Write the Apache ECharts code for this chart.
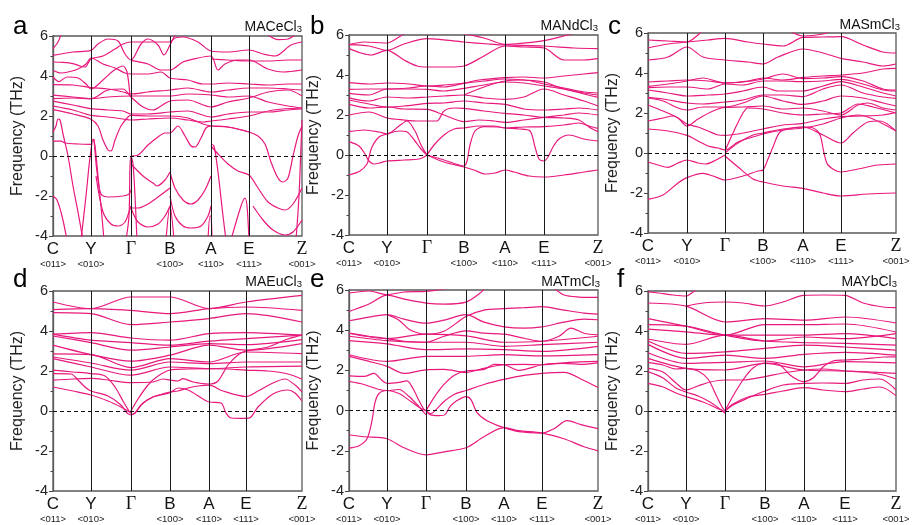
<!DOCTYPE html>
<html>
<head>
<meta charset="utf-8">
<script src="https://cdn.jsdelivr.net/npm/echarts@6/dist/echarts.min.js"></script>
<style>
html, body { margin: 0; padding: 0; background: #fff; }
#chart { width: 912px; height: 525px; }
</style>
</head>
<body>
<div id="chart"></div>
<script>
// High-symmetry points along the Brillouin-zone path and their directions
const pointLabels = ['C', 'Y', 'Γ', 'B', 'A', 'E', 'Z'];
const directionLabels = ['<011>', '<010>', '', '<100>', '<110>', '<111>', '<001>'];
const compounds = ['MACeCl', 'MANdCl', 'MASmCl', 'MAEuCl', 'MATmCl', 'MAYbCl'];
const panelLetters = ['a', 'b', 'c', 'd', 'e', 'f'];
const freqTicks = [-4, -2, 0, 2, 4, 6];

// Path distance of each high-symmetry point, per compound
const kpathA = [0, 38, 78, 117, 158, 196, 249];
const kpathB = [0, 38, 78, 115, 156, 195, 249];
const kpathC = [0, 39, 77, 115, 155, 193, 248];
const kpathD = [0, 38, 78, 117, 156, 193, 249];
const kpathE = [0, 38, 77, 117, 155, 193, 249];
const kpathF = [0, 38, 77, 117, 156, 197, 248];

// Phonon branches: [path distance, frequency in THz]
const bandsA = [
  [[0,5.37],[5,5.7],[9,6.2]],
  [[0,5.03],[20,5.2],[38,5.28],[45,5.6],[55,5.85],[65,5.75],[72,5.1],[78,4.8],[88,5.6],[95,5.85],[105,5.55],[111,5.05],[117,5.55],[121,5.95],[124,6.2]],
  [[0,4.7],[10,4.68],[20,4.62],[27,4.5],[32,4.45],[38,4.85],[50,5.0],[62,5.35],[70,5.6],[78,5.7],[100,5.7],[117,5.7],[122,5.9],[130,5.95],[145,5.7],[158,5.25],[175,5.2],[196,5.3],[210,5.1],[222,5.0],[238,5.55],[249,5.7]],
  [[0,4.29],[8,4.15],[15,4.2],[25,4.35],[33,4.6],[38,4.9],[50,4.6],[62,4.4],[72,4.15],[78,4.1],[95,4.1],[108,4.2],[117,3.9],[135,3.8],[150,3.6],[158,3.6],[175,3.65],[196,3.6],[215,3.55],[235,3.6],[249,3.6]],
  [[0,3.95],[6,3.72],[14,3.95],[25,3.9],[33,3.6],[38,3.35],[50,3.8],[60,4.25],[70,4.5],[74,4.2],[77,3.0]],
  [[78,4.78],[95,4.6],[108,4.3],[117,4.3],[130,4.7],[145,4.9],[158,5.0],[165,4.3],[172,4.6],[185,4.8],[196,4.8],[215,4.35],[230,4.2],[249,4.3]],
  [[158,4.85],[175,4.8],[196,4.75],[215,4.75],[235,4.8],[249,4.8]],
  [[215,6.05],[225,5.82],[235,5.85],[242,6.05]],
  [[0,3.57],[20,3.55],[38,3.42],[55,3.35],[70,3.2],[78,3.1],[95,3.2],[117,3.3],[135,3.4],[158,3.2],[175,3.3],[196,3.4],[215,3.4],[235,3.35],[249,3.3]],
  [[0,3.04],[20,2.95],[38,2.87],[55,3.3],[70,3.35],[78,2.95],[90,2.45],[100,2.3],[108,2.5],[117,2.75],[135,2.8],[158,2.45],[175,2.7],[196,2.9],[215,3.2],[235,3.3],[249,3.0]],
  [[0,2.87],[20,2.9],[38,2.87],[55,2.95],[78,3.0],[95,3.0],[117,3.0],[135,3.1],[158,3.05],[175,2.95],[196,3.0],[215,2.7],[235,2.5],[249,2.4]],
  [[0,2.74],[20,2.55],[38,2.37],[55,2.3],[70,2.25],[78,2.1],[95,2.1],[117,2.2],[135,2.25],[158,1.95],[175,2.1],[196,2.2],[215,2.2],[235,2.3],[249,2.35]],
  [[0,2.49],[20,2.3],[38,2.03],[55,1.95],[70,1.85],[78,1.8],[95,1.85],[117,1.9],[135,1.8],[150,1.7],[158,1.75],[175,1.85],[196,2.0],[220,2.3],[249,2.4]],
  [[0,2.32],[20,2.1],[38,1.84],[45,1.5],[50,0.8],[55,0.3],[58,0.25],[62,0.8],[68,1.5],[75,1.95],[78,2.03],[95,2.0],[117,2.0],[135,1.9],[150,1.6],[158,1.5],[175,1.45],[196,1.2],[205,1.0],[212,0.6],[218,-0.3],[225,-1.1],[230,-1.3],[235,-1.1],[240,0.0],[245,1.0],[249,1.5]],
  [[78,0],[85,0.05],[95,0.55],[105,0.95],[112,1.15],[117,1.15],[125,1.5],[132,1.0],[138,0.5],[142,0.45],[148,0.9],[153,1.4],[158,1.5],[175,1.45],[196,1.2]],
  [[0,0.74],[8,0.74],[12,0.65],[25,0.6],[38,0.58]],
  [[0,1.2],[3,1.5],[5,1.85],[7,1.8],[10,1.1],[15,0],[20,-1.5],[25,-2.8],[30,-4.2]],
  [[0,-2.0],[4,-2.2],[9,-3.0],[14,-4.2]],
  [[28,-4.2],[33,-2.0],[36,-0.5],[38,0.3],[40,0.85],[42,0.5],[45,-1.0],[48,-2.5],[51,-4.2]],
  [[41,0.85],[44,-0.8],[48,-1.9],[55,-2.05],[70,-2.0],[76,-1.9],[78,-1.7]],
  [[43,-1.0],[50,-2.8],[58,-3.4],[65,-3.5],[72,-3.3],[76,-2.8],[78,-2.5]],
  [[78,-0.4],[90,-1.0],[100,-1.35],[104,-1.5],[112,-1.2],[117,-0.8]],
  [[78,-2.6],[85,-2.6],[95,-2.4],[105,-2.05],[117,-1.6]],
  [[78,-2.6],[85,-3.3],[95,-3.55],[105,-3.4],[112,-3.0],[117,-2.5]],
  [[73,-4.2],[76,-3.0],[77,-0.5],[78,0],[80,-0.4],[82,-2.0],[84,-4.2]],
  [[117,-0.8],[122,-1.6],[130,-2.2],[138,-2.4],[145,-2.2],[152,-1.7],[158,-1.0]],
  [[117,-2.0],[122,-3.0],[130,-3.5],[138,-3.6],[148,-3.5],[155,-3.0],[158,-2.5]],
  [[113,-4.2],[117,-2.5],[121,-4.2]],
  [[158,0.6],[161,0.5],[165,-0.8],[170,-3.0],[173,-4.2]],
  [[158,0.5],[165,0.1],[175,-0.4],[185,-0.75],[196,-0.95],[205,-1.6],[215,-2.3],[225,-2.6],[232,-2.7],[240,-2.4],[249,-1.6]],
  [[178,-4.2],[188,-2.5],[192,-2.1],[194,-2.5],[196,-4.2]],
  [[200,-2.5],[210,-3.2],[220,-3.7],[232,-3.95],[240,-3.8],[249,-3.2]],
  [[243,-4.2],[246,-2.0],[248,0.5],[249,1.8]],
  [[155,-4.2],[157,-3.0],[158,-3.0],[159,-4.2]]
];

const bandsB = [
  [[0,0.67],[10,0.45],[16,0.05],[20,-0.3],[25,-0.45],[32,-0.38],[38,-0.3],[55,-0.25],[70,-0.2],[75,-0.1],[78,0]],
  [[0,-1.0],[11,-0.8],[18,-0.45],[20,-0.1],[23,0.4],[30,0.9],[38,1.05],[50,1.2],[58,1.15],[66,0.7],[72,0.3],[78,0]],
  [[0,1.17],[15,1.25],[30,1.15],[38,1.05],[50,1.45],[58,1.7],[66,1.2],[72,0.5],[78,0]],
  [[78,0],[95,-0.35],[115,-0.6],[125,-0.75],[136,-0.95],[146,-0.9],[156,-0.75],[165,-0.85],[180,-1.05],[195,-1.1],[215,-1.0],[235,-0.85],[249,-0.75]],
  [[78,0],[95,-0.25],[110,-0.5],[115,-0.55],[118,-0.3],[121,0.5],[126,1.2],[135,1.42],[150,1.4],[156,1.35],[170,1.3],[181,1.2],[186,0.4],[190,-0.2],[195,-0.3],[199,-0.1],[204,0.4],[210,0.8],[220,1.0],[235,0.8],[249,0.7]],
  [[78,0],[85,0.5],[95,1.0],[105,1.3],[115,1.35],[130,1.45],[145,1.45],[156,1.35],[175,1.4],[195,1.42],[215,1.5],[230,1.6],[240,1.45],[249,1.33]],
  [[0,2.0],[20,2.15],[38,1.85],[55,1.75],[70,1.7],[78,1.7],[88,1.7],[95,2.2],[105,2.35],[115,2.33],[135,2.2],[156,2.08],[175,2.0],[195,1.88],[215,1.85],[230,1.75],[240,1.4],[249,1.17]],
  [[0,2.53],[20,2.35],[38,2.4],[55,2.3],[78,2.28],[95,2.0],[115,1.67],[130,1.75],[145,1.7],[156,1.63],[175,1.75],[195,1.88],[215,2.0],[230,2.1],[249,2.0]],
  [[0,2.75],[20,2.55],[38,2.4],[55,2.45],[78,2.58],[95,2.6],[115,2.7],[135,2.6],[156,2.53],[175,2.3],[195,2.25],[215,2.3],[230,2.35],[249,2.25]],
  [[0,2.86],[20,2.7],[38,2.9],[60,2.85],[78,2.9],[95,2.95],[115,3.0],[135,2.85],[156,2.78],[175,2.9],[195,3.3],[215,3.0],[235,2.7],[249,2.45]],
  [[0,3.08],[20,3.0],[38,3.3],[60,3.3],[78,3.28],[95,3.2],[115,3.33],[135,3.5],[156,3.65],[175,3.6],[195,3.45],[215,3.3],[235,3.05],[249,2.88]],
  [[0,3.28],[20,3.3],[38,3.3],[60,3.35],[78,3.45],[95,3.4],[115,3.58],[135,3.7],[156,3.8],[175,3.75],[195,3.65],[215,3.3],[235,3.1],[249,3.0]],
  [[0,3.62],[20,3.55],[38,3.6],[60,3.55],[78,3.45],[95,3.5],[115,3.6],[130,3.75],[156,3.87],[175,3.9],[195,3.85],[215,3.95],[235,4.05],[249,4.12]],
  [[115,3.0],[135,3.4],[156,3.7],[175,3.75],[195,3.55],[215,3.35],[235,3.15],[249,3.1]],
  [[0,5.32],[12,5.1],[22,5.0],[38,5.23],[55,4.75],[68,4.45],[78,4.4],[100,4.4],[115,4.45],[135,4.95],[156,5.45],[175,5.4],[195,5.35],[215,4.75],[235,4.75],[249,4.82]],
  [[0,5.52],[20,5.45],[38,5.23],[55,5.55],[78,5.82],[115,5.65],[140,5.55],[156,5.5],[195,5.45],[225,5.35],[249,5.32]],
  [[0,5.52],[15,5.65],[38,5.6],[50,5.9],[58,6.15]],
  [[105,6.15],[135,5.85],[156,5.53],[195,5.72],[215,5.95],[230,6.15]]
];

const bandsC = [
  [[0,-2.32],[15,-2.1],[30,-1.5],[39,-1.23],[55,-1.02],[65,-1.15],[77,-1.35],[95,-1.15],[110,-0.9],[115,-0.85],[120,-0.3],[125,0.3],[132,1.05],[145,1.25],[155,1.3],[165,1.25],[172,0.9],[176,0.0],[180,-0.6],[193,-0.95],[210,-0.8],[230,-0.6],[248,-0.55]],
  [[77,-0.15],[90,-0.7],[105,-1.3],[115,-1.45],[135,-1.65],[155,-1.77],[175,-2.0],[193,-2.15],[220,-2.05],[248,-2.0]],
  [[0,-0.45],[10,-0.6],[20,-0.72],[30,-0.5],[39,-0.35],[50,-0.5],[58,-0.55],[68,-0.35],[77,-0.1]],
  [[77,0.1],[85,1.0],[95,2.0],[100,2.25],[115,2.2],[135,2.0],[155,1.9],[175,1.95],[193,2.0],[210,2.45],[225,2.3],[248,2.0]],
  [[77,0],[90,0.5],[105,0.9],[115,1.0],[135,1.2],[155,1.3],[175,0.9],[193,0.5],[205,1.0],[220,1.55],[232,1.6],[248,1.1]],
  [[0,1.2],[20,1.1],[39,0.88],[50,0.6],[60,0.35],[70,0.25],[77,0.15],[90,0.55],[105,0.8],[115,0.95],[135,1.15],[155,1.25],[175,1.45],[193,1.75],[210,1.9],[225,1.7],[248,1.1]],
  [[0,1.6],[15,1.75],[25,1.85],[39,1.45],[50,1.3],[60,1.1],[70,0.9],[77,0.88],[90,0.95],[105,1.1],[115,1.2],[135,1.4],[155,1.48],[175,1.7],[193,1.82],[215,1.85],[235,1.9],[248,2.03]],
  [[0,2.4],[15,2.1],[30,1.75],[39,1.35],[50,1.7],[65,2.1],[77,2.28],[95,2.3],[115,2.35],[135,2.2],[155,2.25],[175,2.1],[193,1.9],[210,2.4],[220,2.5],[235,2.25],[248,2.15]],
  [[0,2.75],[15,2.6],[30,2.25],[39,2.15],[55,2.3],[77,2.3],[95,2.5],[115,2.85],[135,2.6],[155,2.43],[175,2.6],[193,2.85],[215,2.75],[235,2.5],[248,2.35]],
  [[0,2.78],[15,2.7],[39,2.5],[55,2.45],[77,2.55],[95,2.65],[115,2.9],[135,2.9],[155,2.82],[175,3.2],[193,3.4],[215,3.0],[235,2.8],[248,2.73]],
  [[0,3.15],[20,3.0],[39,2.85],[60,2.9],[77,2.95],[95,3.1],[115,3.3],[130,3.1],[155,3.1],[175,3.35],[193,3.57],[215,3.3],[235,3.0],[248,2.85]],
  [[0,3.27],[20,3.3],[39,3.3],[60,3.2],[77,3.45],[95,3.4],[115,3.6],[135,3.6],[155,3.57],[175,3.6],[193,3.68],[215,3.45],[235,3.15],[248,3.1]],
  [[0,3.33],[20,3.45],[39,3.6],[55,3.75],[77,3.5],[95,3.55],[115,3.7],[135,3.95],[155,3.72],[175,3.75],[193,3.82],[215,3.6],[235,3.2],[248,3.15]],
  [[0,3.55],[20,3.6],[39,3.65],[60,3.6],[77,3.5],[100,3.6],[115,3.75],[135,3.65],[155,3.78],[175,3.85],[193,3.9],[215,4.0],[235,4.2],[248,4.23]],
  [[0,4.65],[20,4.8],[39,5.3],[55,4.8],[77,4.65],[100,4.55],[115,4.45],[130,4.8],[155,5.2],[175,5.0],[193,4.73],[215,4.55],[235,4.35],[248,4.45]],
  [[0,5.25],[20,5.45],[39,5.55],[60,5.65],[77,5.73],[100,5.55],[115,5.45],[135,5.35],[155,5.78],[175,5.8],[193,5.82],[215,5.4],[235,5.05],[248,5.0]],
  [[0,5.65],[20,5.6],[39,5.55],[50,5.9],[55,6.15]],
  [[140,6.15],[155,5.85],[175,5.95],[185,6.15]]
];

const bandsD = [
  [[0,1.2],[20,1.0],[38,0.8],[55,0.5],[68,0.2],[75,0],[78,-0.1]],
  [[0,1.87],[18,1.85],[25,1.55],[32,1.2],[38,1.0],[55,0.75],[68,0.3],[74,-0.1],[78,-0.2]],
  [[0,2.04],[20,1.95],[38,1.87],[52,1.75],[62,1.2],[70,0.5],[76,0],[78,-0.1]],
  [[78,-0.2],[82,-0.1],[90,0.4],[100,0.7],[117,0.95],[125,1.0],[135,1.15],[145,1.25],[156,1.29],[170,1.0],[193,0.72],[205,1.0],[220,1.4],[232,1.6],[242,1.3],[249,0.96]],
  [[78,-0.2],[82,-0.1],[88,0.3],[100,0.7],[117,0.92],[125,1.15],[135,1.05],[150,0.6],[156,0.45],[168,0.4],[173,-0.1],[178,-0.35],[193,-0.37],[198,-0.3],[205,0.2],[220,0.85],[235,1.05],[242,0.9],[249,0.5]],
  [[78,0],[85,0.6],[95,1.3],[105,1.75],[117,2.05],[135,2.1],[156,2.12],[175,2.1],[193,2.04],[215,2.0],[235,1.85],[249,1.59]],
  [[0,1.54],[20,1.6],[38,1.63],[55,1.55],[78,1.42],[100,1.45],[110,1.6],[117,1.55],[125,1.5],[130,1.62],[140,1.45],[156,1.35],[165,1.5],[175,2.3],[185,2.8],[193,3.0],[215,3.2],[235,3.6],[249,3.79]]
];
// Branches given only by their frequencies at C, Y, Γ, B, A, E, Z
const symBandsD = [
  [2.62, 2.2, 1.79, 2.2, 2.12, 2.2, 2.24],
  [2.7, 2.4, 2.04, 2.45, 2.37, 2.45, 2.45],
  [2.86, 2.82, 2.17, 2.62, 2.45, 2.95, 2.87],
  [3.29, 2.82, 2.49, 2.79, 3.29, 3.04, 3.37],
  [3.75, 3.42, 3.04, 3.2, 3.37, 3.32, 3.57],
  [3.84, 3.54, 3.42, 3.29, 3.49, 3.62, 3.79],
  [3.84, 3.92, 3.65, 3.54, 3.87, 3.92, 3.79],
  [4.92, 4.87, 4.32, 4.45, 4.62, 4.87, 4.45],
  [5.07, 5.12, 5.03, 4.87, 5.12, 5.2, 5.03],
  [5.45, 5.12, 5.7, 5.7, 5.12, 5.45, 5.78]
];

const bandsE = [
  [[0,-1.2],[15,-1.3],[38,-1.4],[55,-1.85],[77,-2.2],[95,-2.05],[117,-1.85],[135,-1.3],[155,-0.85],[170,-1.0],[193,-1.12],[215,-1.4],[235,-1.8],[249,-2.0]],
  [[0,-1.87],[10,-1.75],[18,-1.4],[23,-0.5],[26,0.4],[30,0.85],[38,1.0],[50,0.85],[62,0.45],[72,0.1],[77,0]],
  [[0,1.45],[15,1.3],[30,1.05],[38,1.0],[50,1.05],[60,0.7],[70,0.2],[75,-0.1],[77,-0.2]],
  [[0,1.73],[15,1.7],[25,1.85],[32,1.55],[38,1.35],[50,1.4],[58,1.48],[64,1.1],[70,0.5],[75,0.05],[77,0]],
  [[77,0],[81,-0.2],[90,-0.25],[96,-0.2],[101,0.2],[108,0.5],[117,0.7],[122,0.55],[128,-0.1],[138,-0.5],[155,-0.85],[170,-1.05],[193,-1.12],[205,-0.9],[218,-0.5],[232,-0.7],[249,-0.9]],
  [[77,0],[82,-0.15],[88,0.1],[95,0.45],[105,0.8],[117,1.0],[135,1.3],[155,1.55],[175,1.75],[193,1.85],[215,1.9],[235,1.5],[249,1.15]],
  [[77,0],[85,0.65],[95,1.3],[105,1.75],[117,1.97],[135,2.05],[145,2.3],[155,2.28],[170,2.0],[193,2.28],[215,2.35],[235,2.3],[249,2.37]],
  [[0,2.7],[20,2.45],[38,2.2],[55,1.85],[77,2.03],[95,2.05],[117,1.9],[135,2.1],[155,2.28],[175,2.3],[193,2.28],[220,2.4],[249,2.45]],
  [[0,3.85],[20,3.7],[38,3.58],[55,3.45],[77,3.4],[95,3.7],[117,3.97],[135,3.85],[155,3.8],[175,3.6],[193,3.45],[210,3.7],[222,4.1],[235,3.85],[249,3.77]],
  [[0,4.93],[20,5.3],[38,5.75],[55,5.55],[77,5.35],[95,5.3],[117,5.4],[130,5.8],[137,6.15]],
  [[0,5.85],[20,5.95],[38,5.77],[55,5.9],[77,5.93],[95,6.05],[105,6.15]],
  [[0,4.47],[20,4.65],[38,4.77],[55,4.55],[77,4.35],[95,4.5],[117,4.77],[135,4.4],[155,4.17],[175,4.1],[193,4.17],[215,4.4],[235,4.55],[249,4.52]],
  [[38,4.77],[50,4.5],[60,4.05],[70,3.85],[77,3.8],[95,3.95],[117,4.68],[135,5.0],[155,5.07],[175,5.12],[193,5.17],[215,5.0],[235,4.85],[249,4.8]],
  [[205,6.1],[215,5.75],[230,5.65],[249,5.63]]
];
const symBandsE = [
  [2.78, 2.45, 2.7, 2.7, 2.78, 2.72, 2.78],
  [3.48, 3.32, 3.03, 3.07, 3.03, 2.95, 3.2],
  [3.7, 3.48, 3.4, 3.4, 3.2, 3.28, 3.4],
  [3.85, 3.58, 3.8, 3.72, 3.4, 3.45, 3.7]
];

const bandsF = [
  [[0,1.38],[15,1.2],[28,0.9],[38,0.72],[55,0.45],[70,0.12],[75,0],[77,-0.1]],
  [[0,1.97],[15,1.65],[28,1.15],[38,0.95],[50,0.75],[62,0.45],[72,0.1],[77,-0.1]],
  [[0,2.13],[15,1.95],[28,1.4],[38,1.05],[50,1.25],[62,1.45],[77,1.55],[95,1.55],[117,1.72],[135,1.9],[156,2.05],[175,2.1],[197,2.0],[215,1.95],[235,1.8],[248,1.6]],
  [[0,2.43],[15,2.3],[28,2.1],[38,2.13],[50,2.0],[60,1.6],[68,0.8],[74,0.2],[77,0]],
  [[77,0],[85,0.35],[100,0.7],[117,0.83],[135,1.0],[156,1.17],[175,1.05],[197,0.97],[215,1.1],[232,1.2],[248,0.77]],
  [[77,0],[85,0.3],[100,0.65],[117,1.0],[135,1.3],[156,1.38],[175,1.4],[197,1.38],[215,1.55],[232,1.6],[248,1.05]],
  [[77,0],[85,0.75],[95,1.55],[105,2.15],[117,2.4],[130,2.35],[142,1.8],[150,1.55],[156,1.47],[165,1.65],[175,2.2],[185,2.5],[197,2.55],[215,2.6],[235,2.7],[248,2.71]],
  [[0,5.95],[10,5.9],[25,5.8],[38,5.75],[45,5.95],[50,6.15]],
  [[38,5.24],[55,5.4],[77,5.45],[95,5.4],[117,5.25],[135,5.45],[156,5.78],[175,5.8],[197,5.78],[215,5.4],[235,5.2],[248,5.17]]
];
const symBandsF = [
  [2.63, 2.13, 2.05, 2.38, 2.05, 2.0, 1.88],
  [2.91, 2.38, 2.43, 2.5, 2.21, 2.47, 2.41],
  [3.33, 2.63, 2.79, 2.63, 2.83, 2.93, 2.79],
  [3.5, 2.88, 2.96, 3.13, 3.29, 3.2, 3.04],
  [3.6, 3.33, 3.79, 3.5, 3.42, 3.38, 3.29],
  [4.09, 3.96, 3.79, 3.79, 3.79, 3.87, 3.62],
  [4.32, 4.24, 3.79, 3.5, 3.7, 3.62, 3.87],
  [4.62, 4.24, 3.79, 4.32, 4.32, 4.35, 3.95],
  [5.4, 5.24, 4.45, 4.62, 4.54, 4.7, 4.4]
];

// Layout of the six panels
const panels = [
  { kpath: kpathA, bands: bandsA, sym: [],         grid: { left: 53,  top: 36,  width: 249, height: 200 }, nameRight: 610, nameTop: 16,  letterLeft: 13,  letterTop: 14 },
  { kpath: kpathB, bands: bandsB, sym: [],         grid: { left: 349, top: 35,  width: 249, height: 200 }, nameRight: 314, nameTop: 15,  letterLeft: 310, letterTop: 14 },
  { kpath: kpathC, bands: bandsC, sym: [],         grid: { left: 648, top: 33,  width: 248, height: 200 }, nameRight: 12,  nameTop: 14,  letterLeft: 608, letterTop: 14 },
  { kpath: kpathD, bands: bandsD, sym: symBandsD,  grid: { left: 53,  top: 291, width: 249, height: 200 }, nameRight: 610, nameTop: 271, letterLeft: 13,  letterTop: 267 },
  { kpath: kpathE, bands: bandsE, sym: symBandsE,  grid: { left: 349, top: 290, width: 249, height: 201 }, nameRight: 312, nameTop: 271, letterLeft: 310, letterTop: 267 },
  { kpath: kpathF, bands: bandsF, sym: symBandsF,  grid: { left: 648, top: 291, width: 248, height: 200 }, nameRight: 15,  nameTop: 271, letterLeft: 617, letterTop: 267 }
];

const sans = '"Liberation Sans", Arial, Helvetica, sans-serif';
const serif = '"Liberation Serif", "Times New Roman", serif';
const bandColor = '#e8197d';

const grids = [], xAxes = [], yAxes = [], series = [], titles = [];

panels.forEach((p, i) => {
  grids.push(Object.assign({ show: true, borderColor: '#5a5a5a', borderWidth: 1.3, outerBoundsMode: 'none' }, p.grid));

  const kp = p.kpath;
  xAxes.push({
    type: 'value', gridIndex: i, min: 0, max: kp[kp.length - 1],
    axisLine: { show: false }, axisTick: { show: false }, splitLine: { show: false },
    axisLabel: {
      customValues: kp, margin: 4, hideOverlap: false, showMinLabel: true, showMaxLabel: true,
      formatter: (v) => {
        const j = kp.indexOf(v);
        if (j < 0) return '';
        const pt = pointLabels[j];
        const style = (pt === 'Γ' || pt === 'Z') ? 'g' : 'l';
        return '{' + style + '|' + pt + '}\n{s|' + (directionLabels[j] || ' ') + '}';
      },
      rich: {
        l: { fontFamily: sans, fontSize: 17, color: '#111', lineHeight: 18 },
        g: { fontFamily: serif, fontSize: 18, color: '#111', lineHeight: 18 },
        s: { fontFamily: sans, fontSize: 9.5, color: '#222', lineHeight: 13 }
      }
    }
  });

  yAxes.push({
    type: 'value', gridIndex: i, min: -4, max: 6, interval: 2,
    axisLine: { show: true, lineStyle: { color: '#5a5a5a', width: 1.3 } },
    axisTick: { show: true, length: 4, lineStyle: { color: '#444' } },
    minorTick: { show: true, splitNumber: 2, length: 2.5, lineStyle: { color: '#444' } },
    splitLine: { show: false },
    axisLabel: { fontFamily: sans, fontSize: 14.5, color: '#222', margin: 5,
      customValues: freqTicks },
    name: 'Frequency (THz)', nameLocation: 'middle', nameGap: 27,
    nameTextStyle: { fontFamily: sans, fontSize: 16, color: '#222' }
  });

  const allBands = p.bands.concat(p.sym.map(vals => vals.map((f, j) => [kp[j], f])));
  allBands.forEach((band, b) => {
    const s = {
      type: 'line', xAxisIndex: i, yAxisIndex: i, data: band,
      showSymbol: false, smooth: 0.3, clip: true, silent: true, animation: false,
      lineStyle: { color: bandColor, width: 1.2 }, z: 3
    };
    if (b === 0) {
      // High-symmetry verticals and the zero-frequency reference
      s.markLine = {
        silent: true, animation: false, symbol: ['none', 'none'], label: { show: false },
        data: kp.slice(1, kp.length - 1).map(v => ({ xAxis: v, lineStyle: { color: '#1a1a1a', width: 1, type: 'solid' } }))
          .concat([{ yAxis: 0, lineStyle: { color: '#111', width: 1, type: [4, 3] } }])
      };
    }
    series.push(s);
  });

  titles.push({
    text: '{m|' + compounds[i] + '}{s|3}', right: p.nameRight, top: p.nameTop, padding: 0,
    textStyle: { fontWeight: 'normal', rich: {
      m: { fontFamily: sans, fontSize: 14, fontWeight: 'normal', color: '#111', lineHeight: 18, verticalAlign: 'bottom' },
      s: { fontFamily: sans, fontSize: 9.5, fontWeight: 'normal', color: '#111', lineHeight: 8, verticalAlign: 'bottom' }
    } }
  });
  titles.push({
    text: panelLetters[i], left: p.letterLeft, top: p.letterTop, padding: 0,
    textStyle: { fontFamily: sans, fontSize: 26, fontWeight: 'normal', color: '#000' }
  });
});

const chart = echarts.init(document.getElementById('chart'), null, { renderer: 'canvas' });
chart.setOption({
  backgroundColor: '#fff',
  animation: false,
  title: titles,
  grid: grids,
  xAxis: xAxes,
  yAxis: yAxes,
  series: series
});
</script>
</body>
</html>
